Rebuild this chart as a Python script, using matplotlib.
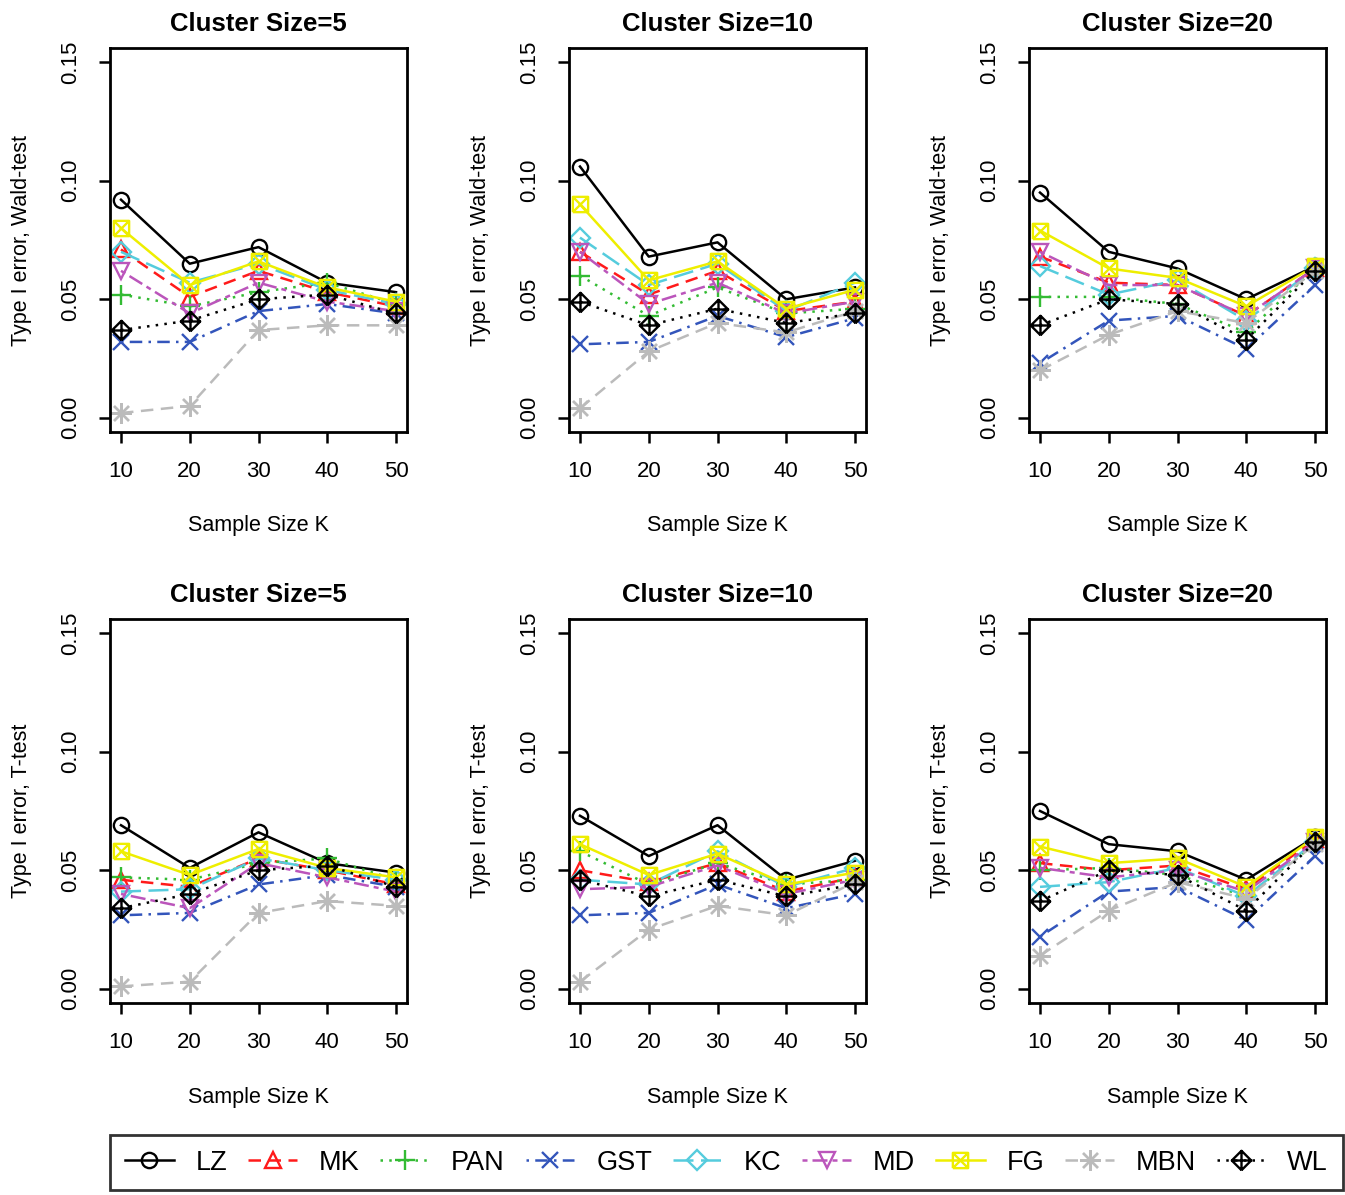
import numpy as np
import matplotlib
matplotlib.use("Agg")
import matplotlib.pyplot as plt
from matplotlib.path import Path
from matplotlib.lines import Line2D

plt.rcParams['font.family'] = ['Liberation Sans', 'DejaVu Sans']

# donnees
K = [10, 20, 30, 40, 50]
methodes = ['LZ', 'MK', 'PAN', 'GST', 'KC', 'MD', 'FG', 'MBN', 'WL']
tailles = [5, 10, 20]

wald_5 = {
    'LZ':  [0.092, 0.065, 0.072, 0.057, 0.053],
    'MK':  [0.071, 0.051, 0.062, 0.053, 0.047],
    'PAN': [0.052, 0.047, 0.053, 0.057, 0.048],
    'GST': [0.032, 0.032, 0.045, 0.048, 0.044],
    'KC':  [0.070, 0.057, 0.065, 0.054, 0.048],
    'MD':  [0.062, 0.044, 0.057, 0.049, 0.045],
    'FG':  [0.080, 0.056, 0.066, 0.055, 0.049],
    'MBN': [0.002, 0.005, 0.037, 0.039, 0.039],
    'WL':  [0.037, 0.041, 0.050, 0.052, 0.044],
}
wald_10 = {
    'LZ':  [0.106, 0.068, 0.074, 0.050, 0.055],
    'MK':  [0.070, 0.052, 0.062, 0.045, 0.049],
    'PAN': [0.060, 0.043, 0.055, 0.044, 0.046],
    'GST': [0.031, 0.032, 0.043, 0.034, 0.042],
    'KC':  [0.076, 0.056, 0.065, 0.045, 0.057],
    'MD':  [0.070, 0.048, 0.057, 0.044, 0.049],
    'FG':  [0.090, 0.058, 0.066, 0.046, 0.054],
    'MBN': [0.004, 0.028, 0.040, 0.036, 0.045],
    'WL':  [0.049, 0.039, 0.046, 0.040, 0.044],
}
wald_20 = {
    'LZ':  [0.095, 0.070, 0.063, 0.050, 0.064],
    'MK':  [0.068, 0.057, 0.056, 0.043, 0.063],
    'PAN': [0.051, 0.051, 0.048, 0.036, 0.063],
    'GST': [0.023, 0.041, 0.043, 0.029, 0.056],
    'KC':  [0.064, 0.052, 0.058, 0.041, 0.063],
    'MD':  [0.070, 0.056, 0.056, 0.043, 0.063],
    'FG':  [0.079, 0.063, 0.059, 0.047, 0.064],
    'MBN': [0.020, 0.035, 0.045, 0.040, 0.062],
    'WL':  [0.039, 0.050, 0.048, 0.033, 0.062],
}
t_5 = {
    'LZ':  [0.069, 0.051, 0.066, 0.053, 0.049],
    'MK':  [0.046, 0.043, 0.055, 0.050, 0.044],
    'PAN': [0.047, 0.046, 0.053, 0.055, 0.046],
    'GST': [0.031, 0.032, 0.044, 0.048, 0.043],
    'KC':  [0.041, 0.042, 0.055, 0.050, 0.046],
    'MD':  [0.040, 0.034, 0.053, 0.047, 0.041],
    'FG':  [0.058, 0.048, 0.059, 0.051, 0.047],
    'MBN': [0.001, 0.003, 0.032, 0.037, 0.035],
    'WL':  [0.034, 0.040, 0.050, 0.052, 0.043],
}
t_10 = {
    'LZ':  [0.073, 0.056, 0.069, 0.046, 0.054],
    'MK':  [0.050, 0.045, 0.053, 0.041, 0.047],
    'PAN': [0.058, 0.044, 0.053, 0.044, 0.046],
    'GST': [0.031, 0.032, 0.044, 0.034, 0.040],
    'KC':  [0.046, 0.044, 0.058, 0.043, 0.051],
    'MD':  [0.042, 0.043, 0.052, 0.040, 0.046],
    'FG':  [0.061, 0.048, 0.057, 0.044, 0.049],
    'MBN': [0.003, 0.025, 0.035, 0.031, 0.045],
    'WL':  [0.046, 0.039, 0.046, 0.039, 0.044],
}
t_20 = {
    'LZ':  [0.075, 0.061, 0.058, 0.046, 0.064],
    'MK':  [0.053, 0.050, 0.052, 0.042, 0.063],
    'PAN': [0.050, 0.051, 0.048, 0.039, 0.061],
    'GST': [0.022, 0.041, 0.043, 0.029, 0.056],
    'KC':  [0.043, 0.045, 0.051, 0.039, 0.062],
    'MD':  [0.051, 0.047, 0.050, 0.041, 0.062],
    'FG':  [0.060, 0.053, 0.055, 0.043, 0.064],
    'MBN': [0.014, 0.033, 0.045, 0.038, 0.061],
    'WL':  [0.037, 0.050, 0.048, 0.033, 0.062],
}

# marqueurs composes (carre + croix, losange + plus)
M, L = Path.MOVETO, Path.LINETO
carre_x = Path([(-1, -1), (1, -1), (1, 1), (-1, 1), (-1, -1), (-1, -1), (1, 1), (-1, 1), (1, -1)],
               [M, L, L, L, L, M, L, M, L])
losange_plus = Path([(0, -1), (1, 0), (0, 1), (-1, 0), (0, -1), (0, -1), (0, 1), (-1, 0), (1, 0)],
                    [M, L, L, L, L, M, L, M, L])

styles = {
    'LZ':  dict(color='black', ls='-', marker='o', ms=11),
    'MK':  dict(color='#ff1a1a', ls=(0, (5, 3)), marker='^', ms=12),
    'PAN': dict(color='#33bb33', ls=(0, (1, 2.5)), marker='+', ms=15),
    'GST': dict(color='#3355bb', ls=(0, (1, 2.5, 5, 2.5)), marker='x', ms=12),
    'KC':  dict(color='#55ccdd', ls=(0, (8, 3)), marker='D', ms=10),
    'MD':  dict(color='#bb55bb', ls=(0, (2, 2, 6, 2)), marker='v', ms=12),
    'FG':  dict(color='#eeee00', ls='-', marker=carre_x, ms=11),
    'MBN': dict(color='#bbbbbb', ls=(0, (5, 3)), marker=(8, 2, 0), ms=15),
    'WL':  dict(color='black', ls=(0, (1, 2.5)), marker=losange_plus, ms=14),
}

panneaux = [(wald_5, 'Wald-test'), (wald_10, 'Wald-test'), (wald_20, 'Wald-test'),
            (t_5, 'T-test'), (t_10, 'T-test'), (t_20, 'T-test')]

fig = plt.figure(figsize=(13.45, 11.95), dpi=100)
gauches = [110 / 1345, 569 / 1345, 1029 / 1345]
bas = [1 - 432 / 1195, 1 - 1003 / 1195]
larg, haut = 297 / 1345, 384 / 1195

for i, (donnees, test) in enumerate(panneaux):
    ax = fig.add_axes([gauches[i % 3], bas[i // 3], larg, haut])
    for m in methodes:
        st = styles[m]
        ax.plot(K, donnees[m], color=st['color'], ls=st['ls'], lw=1.8,
                marker=st['marker'], ms=st['ms'], mfc='none', mec=st['color'], mew=1.7)
    ax.set_xlim(8.4, 51.6)
    ax.set_ylim(-0.006, 0.156)
    ax.set_xticks(K)
    ax.set_yticks([0.00, 0.05, 0.10, 0.15])
    ax.set_yticklabels(['0.00', '0.05', '0.10', '0.15'], rotation=90, va='center')
    ax.tick_params(length=8, width=1.8, labelsize=16, pad=13)
    for s in ax.spines.values():
        s.set_linewidth(2)
    ax.set_title(f"Cluster Size={tailles[i % 3]}", fontsize=18.5, fontweight='bold', pad=12)
    ax.set_xlabel("Sample Size K", fontsize=15.5, labelpad=24)
    ax.set_ylabel(f"Type I error, {test}", fontsize=15.5, labelpad=20)

# legende commune
poignees = []
for m in methodes:
    st = styles[m]
    poignees.append(Line2D([], [], color=st['color'], ls=st['ls'], lw=1.8, marker=st['marker'],
                           ms=st['ms'], mfc='none', mec=st['color'], mew=1.7))
leg = fig.legend(poignees, methodes, loc='center', ncol=9, mode='expand',
                 bbox_to_anchor=(110 / 1345, 2 / 1195, 1233 / 1345, 61 / 1195),
                 fontsize=19.5, handlelength=1.8, handletextpad=0.8, columnspacing=0.5,
                 borderpad=0.55, frameon=True, fancybox=False, borderaxespad=0)
leg.get_frame().set_edgecolor('black')
leg.get_frame().set_linewidth(2)

fig.savefig("out.png", dpi=100)
